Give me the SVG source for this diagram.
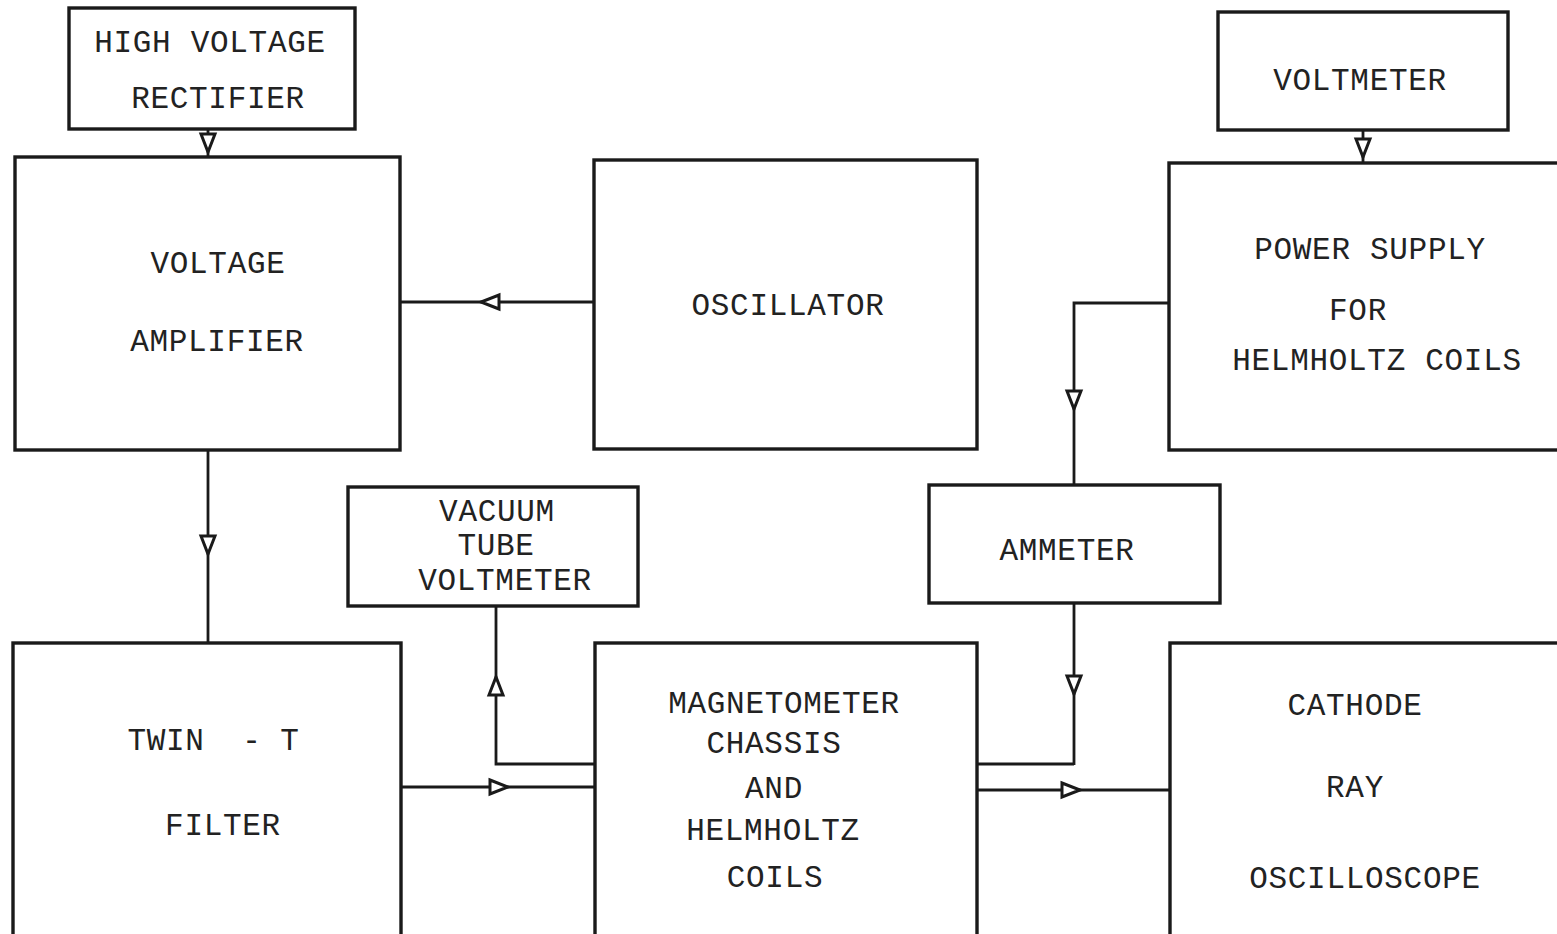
<svg xmlns="http://www.w3.org/2000/svg" width="1557" height="934" viewBox="0 0 1557 934">
<style>
.box{fill:none;stroke:#1a1a1a;stroke-width:3.4}
.wire{fill:none;stroke:#1a1a1a;stroke-width:2.8}
.ah{fill:#fff;stroke:#1a1a1a;stroke-width:3;stroke-linejoin:miter}
text{font-family:"Liberation Mono","DejaVu Sans Mono",monospace;font-size:31px;fill:#222;text-anchor:middle;letter-spacing:0.7px}
</style>
<defs>
<path id="arr" class="ah" d="M-9,-7 L9,0 L-9,7 Z"/>
</defs>
<rect width="1557" height="934" fill="#fff"/>
<g id="connectors">
<path class="wire" d="M208,129 V157"/>
<use href="#arr" transform="translate(208,143) rotate(90)"/>
<path class="wire" d="M594,302 H400"/>
<use href="#arr" transform="translate(490,302) rotate(180)"/>
<path class="wire" d="M208,450 V643"/>
<use href="#arr" transform="translate(208,545) rotate(90)"/>
<path class="wire" d="M401,787 H595"/>
<use href="#arr" transform="translate(499,787)"/>
<path class="wire" d="M595,764 H496 V606"/>
<use href="#arr" transform="translate(496,686) rotate(-90)"/>
<path class="wire" d="M1169,303 H1074 V485"/>
<use href="#arr" transform="translate(1074,400) rotate(90)"/>
<path class="wire" d="M1074,603 V765 M1074,764 H977"/>
<use href="#arr" transform="translate(1074,685) rotate(90)"/>
<path class="wire" d="M977,790 H1170"/>
<use href="#arr" transform="translate(1071,790)"/>
<path class="wire" d="M1363,130 V163"/>
<use href="#arr" transform="translate(1363,148) rotate(90)"/>
</g>
<g id="hv-rectifier">
<rect class="box" x="69" y="8" width="286" height="121"/>
<text x="210" y="52">HIGH VOLTAGE</text>
<text x="218" y="108">RECTIFIER</text>
</g>
<g id="voltage-amplifier">
<rect class="box" x="15" y="157" width="385" height="293"/>
<text x="218" y="273">VOLTAGE</text>
<text x="217" y="351">AMPLIFIER</text>
</g>
<g id="oscillator">
<rect class="box" x="594" y="160" width="383" height="289"/>
<text x="788" y="315">OSCILLATOR</text>
</g>
<g id="voltmeter">
<rect class="box" x="1218" y="12" width="290" height="118"/>
<text x="1360" y="90">VOLTMETER</text>
</g>
<g id="power-supply">
<rect class="box" x="1169" y="163" width="392" height="287"/>
<text x="1370" y="259">POWER SUPPLY</text>
<text x="1358" y="320">FOR</text>
<text x="1377" y="370">HELMHOLTZ COILS</text>
</g>
<g id="vtvm">
<rect class="box" x="348" y="487" width="290" height="119"/>
<text x="497" y="521">VACUUM</text>
<text x="496" y="555">TUBE</text>
<text x="505" y="590">VOLTMETER</text>
</g>
<g id="ammeter">
<rect class="box" x="929" y="485" width="291" height="118"/>
<text x="1067" y="560">AMMETER</text>
</g>
<g id="twin-t-filter">
<rect class="box" x="13" y="643" width="388" height="293"/>
<text x="166" y="750">TWIN</text>
<text x="252" y="750">-</text>
<text x="290" y="750">T</text>
<text x="223" y="835">FILTER</text>
</g>
<g id="magnetometer">
<rect class="box" x="595" y="643" width="382" height="293"/>
<text x="784" y="713">MAGNETOMETER</text>
<text x="774" y="753">CHASSIS</text>
<text x="774" y="798">AND</text>
<text x="773" y="840">HELMHOLTZ</text>
<text x="775" y="887">COILS</text>
</g>
<g id="cro">
<rect class="box" x="1170" y="643" width="391" height="293"/>
<text x="1355" y="715">CATHODE</text>
<text x="1355" y="797">RAY</text>
<text x="1365" y="888">OSCILLOSCOPE</text>
</g>
</svg>
